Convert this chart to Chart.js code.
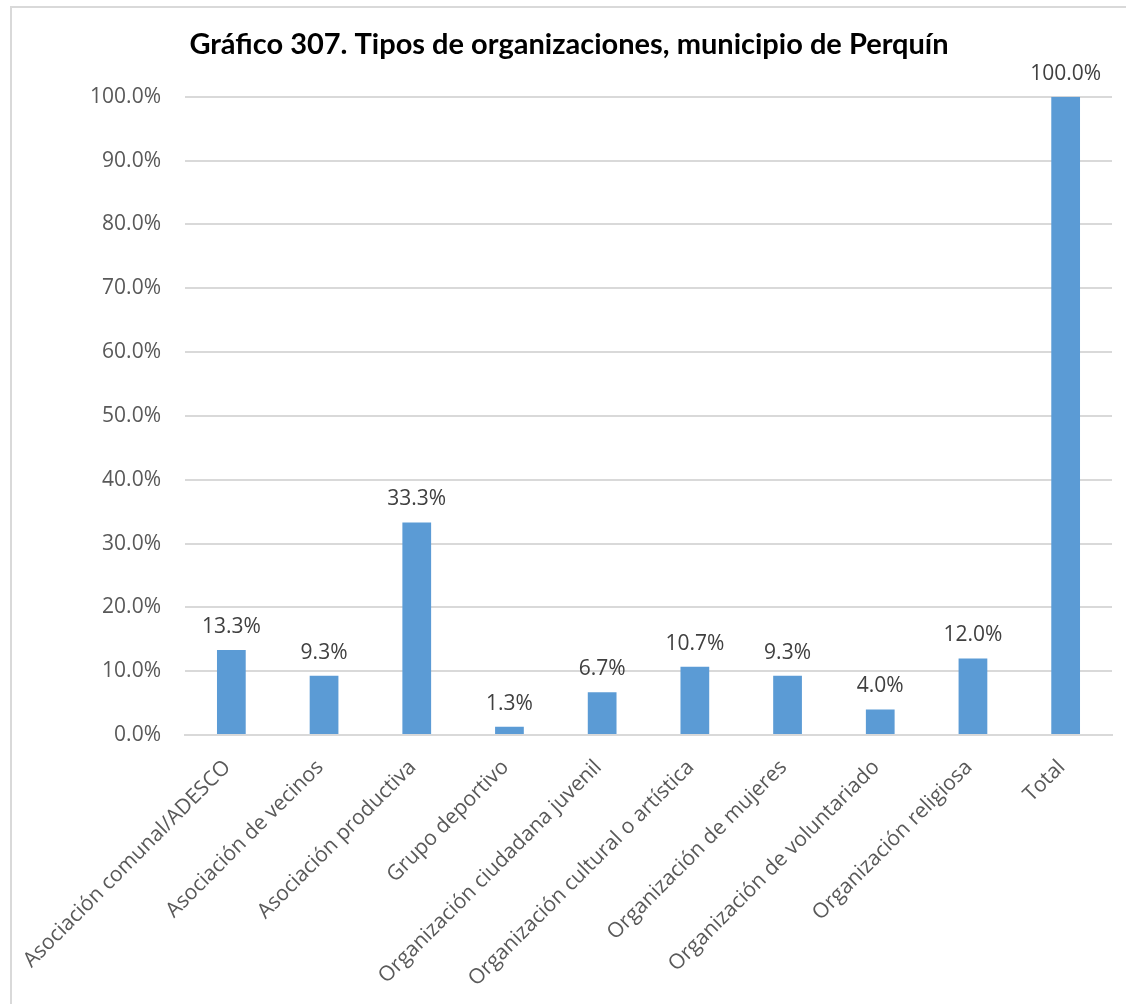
<!DOCTYPE html>
<html>
<head>
<meta charset="utf-8">
<script src="https://cdn.jsdelivr.net/npm/chart.js@4/dist/chart.umd.min.js"></script>
<style>
  html, body { margin: 0; padding: 0; background: #fff; overflow: hidden; }
  #wrap { position: relative; width: 1126px; height: 1004px; }
  #frame { position: absolute; left: 10px; top: 6px; width: 2000px; height: 2000px;
           border-top: 2px solid #d9d9d9; border-left: 2px solid #d9d9d9; pointer-events: none; }
</style>
</head>
<body>
<div id="wrap">
  <canvas id="chart" width="1126" height="1004"></canvas>
  <div id="frame"></div>
</div>
<script>
// Datos del gráfico
const categorias = [
    'Asociación comunal/ADESCO',
    'Asociación de vecinos',
    'Asociación productiva',
    'Grupo deportivo',
    'Organización ciudadana juvenil',
    'Organización cultural o artística',
    'Organización de mujeres',
    'Organización de voluntariado',
    'Organización religiosa',
    'Total'
];
const porcentajes = [13.3, 9.3, 33.3, 1.3, 6.7, 10.7, 9.3, 4.0, 12.0, 100.0];
const ticksY = [0, 10, 20, 30, 40, 50, 60, 70, 80, 90, 100];

// etiquetas encima de cada barra
const etiquetasBarras = {
    id: 'etiquetasBarras',
    afterDatasetsDraw(chart) {
        const ctx = chart.ctx;
        const meta = chart.getDatasetMeta(0);
        ctx.save();
        ctx.font = '21px "Open Sans"';
        ctx.fillStyle = '#404040';
        ctx.textAlign = 'center';
        ctx.textBaseline = 'alphabetic';
        meta.data.forEach((bar, i) => {
            ctx.fillText(porcentajes[i].toFixed(1) + '%', bar.x, bar.y - 17);
        });
        ctx.restore();
    }
};

function dibujar() {
    const ctx = document.getElementById('chart').getContext('2d');
    new Chart(ctx, {
        type: 'bar',
        data: {
            labels: categorias,
            datasets: [{
                data: porcentajes,
                backgroundColor: '#5b9bd5',
                barPercentage: 0.31,
                categoryPercentage: 1
            }]
        },
        options: {
            responsive: false,
            animation: false,
            layout: {
                padding: { left: 26, right: 14, top: 0, bottom: 0 }
            },
            plugins: {
                legend: { display: false },
                tooltip: { enabled: false },
                title: {
                    display: true,
                    text: 'Gráfico 307. Tipos de organizaciones, municipio de Perquín',
                    color: '#000000',
                    font: { family: 'Lato', size: 29, weight: 'bold', lineHeight: 1.2 },
                    padding: { top: 27, bottom: 35 }
                }
            },
            scales: {
                y: {
                    min: 0,
                    max: 100,
                    afterFit(scale) { scale.width = 159; },
                    afterBuildTicks(scale) { scale.ticks = ticksY.map(v => ({ value: v })); },
                    ticks: {
                        padding: 24,
                        color: '#595959',
                        font: { family: 'Open Sans', size: 21 },
                        callback: v => v.toFixed(1) + '%'
                    },
                    grid: { color: '#d9d9d9', lineWidth: 2, drawTicks: false },
                    border: { display: false }
                },
                x: {
                    afterFit(scale) { scale.height = 269; },
                    ticks: {
                        autoSkip: false,
                        maxRotation: 45,
                        minRotation: 45,
                        padding: 20,
                        labelOffset: -4,
                        color: '#595959',
                        font: { family: 'Open Sans', size: 21 }
                    },
                    grid: { display: false, drawTicks: false },
                    border: { display: true, color: '#d9d9d9', width: 2 }
                }
            }
        },
        plugins: [etiquetasBarras]
    });
}

Promise.all([
    document.fonts.load('21px "Open Sans"'),
    document.fonts.load('bold 29px "Lato"')
]).then(dibujar, dibujar);
</script>
</body>
</html>
